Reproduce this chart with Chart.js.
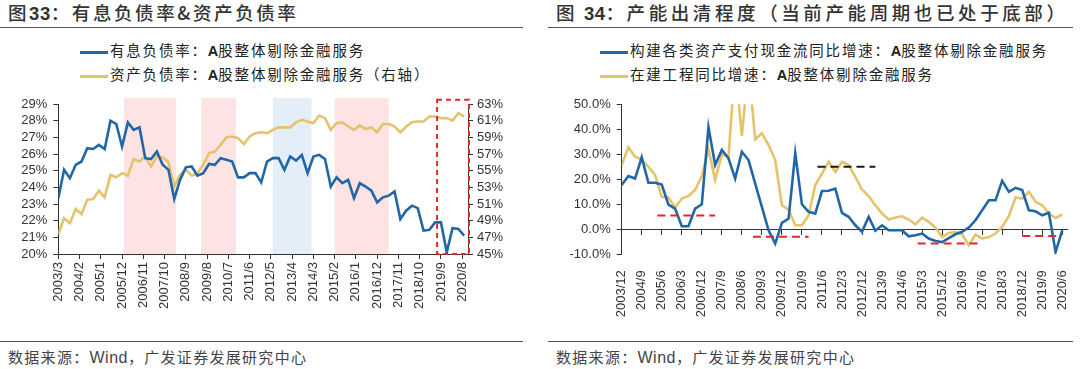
<!DOCTYPE html>
<html>
<head>
<meta charset="utf-8">
<script src="https://cdn.jsdelivr.net/npm/chart.js@4.4.1/dist/chart.umd.min.js"></script>
<style>
  body { margin: 0; width: 1080px; height: 369px; overflow: hidden; background: #fff; position: relative;
         font-family: "Noto Sans CJK SC", "Noto Sans", sans-serif; color: #333; }
  .title { position: absolute; top: 0; line-height: 24px; font-size: 18.5px; font-weight: 500; color: #333;
           letter-spacing: 2.6px; white-space: nowrap; }
  .title b { font-family: "Liberation Sans", Arial, sans-serif; font-weight: 700; letter-spacing: 0.5px; }
  .title .wide { letter-spacing: 3.6px; }
  .rule { position: absolute; height: 0; border-top: 1.5px solid #555; }
  .legend { position: absolute; left: 0; font-size: 14.5px; letter-spacing: 1.8px; color: #222; white-space: nowrap; line-height: 20px; }
  .legend i { display: inline-block; width: 28px; height: 3px; vertical-align: middle; margin-right: 2px; }
  .legend b { font-family: "Liberation Sans", Arial, sans-serif; letter-spacing: 0; }
  .source { position: absolute; top: 347px; line-height: 20px; font-size: 15px; color: #444; letter-spacing: 1.3px; white-space: nowrap; }
  .source span { font-family: "Liberation Sans", Arial, sans-serif; font-size: 16px; letter-spacing: 0.5px; }
  .panel { position: absolute; top: 90px; height: 240px; overflow: hidden; }
</style>
</head>
<body>
<div class="title" style="left:8px">图<b>33</b>：有息负债率&amp;资产负债率</div>
<div class="rule" style="left:0;top:27px;width:523px"></div>
<div class="legend" style="top:40px;left:80px"><i style="background:#2166a5"></i>有息负债率：<b>A</b>股整体剔除金融服务</div>
<div class="legend" style="top:64px;left:80px"><i style="background:#e4c36b"></i>资产负债率：<b>A</b>股整体剔除金融服务（右轴）</div>
<div class="panel" style="left:0;width:540px"><canvas id="left" width="540" height="240"></canvas></div>
<div class="rule" style="left:0;top:341px;width:523px"></div>
<div class="source" style="left:8px">数据来源：<span>Wind</span>，广发证券发展研究中心</div>

<div class="title" style="left:556px">图 <b>34</b>：<span class="wide">产能出清程度（当前产能周期也已处于底部）</span></div>
<div class="rule" style="left:548px;top:27px;width:525px"></div>
<div class="legend" style="top:40px;left:600px"><i style="background:#2166a5"></i>构建各类资产支付现金流同比增速：<b>A</b>股整体剔除金融服务</div>
<div class="legend" style="top:64px;left:600px"><i style="background:#e4c36b"></i>在建工程同比增速：<b>A</b>股整体剔除金融服务</div>
<div class="panel" style="left:540px;width:528px"><canvas id="right" width="546" height="240"></canvas></div>
<div class="rule" style="left:548px;top:341px;width:525px"></div>
<div class="source" style="left:556px">数据来源：<span>Wind</span>，广发证券发展研究中心</div>

<script>
// ---- figure 33: quarterly, 2003/3 onwards ----
const leftStart = '2003/3';
const leftXMin = '2003/3';
const leftXMax = '2020/11';
const leftTickLabels = ['2003/3', '2004/2', '2005/1', '2005/12', '2006/11', '2007/10', '2008/9', '2009/8', '2010/7',
  '2011/6', '2012/5', '2013/4', '2014/3', '2015/2', '2016/1', '2016/12', '2017/11', '2018/10', '2019/9', '2020/8'];
// 有息负债率 (left axis, %)
const debtRatio = [23.35, 25.05, 24.55, 25.35, 25.55, 26.35, 26.3, 26.55, 26.3, 28.0, 27.8, 26.45, 27.9, 27.45, 27.6,
  25.75, 25.7, 26.15, 25.35, 25.05, 23.3, 24.45, 25.2, 25.25, 24.7, 24.85, 25.4, 25.35, 25.75, 25.65, 25.55, 24.6,
  24.6, 24.85, 24.85, 24.3, 25.55, 25.75, 25.75, 25.05, 25.85, 25.6, 25.95, 24.85, 25.85, 25.95, 25.7, 24.05, 24.6,
  24.25, 24.45, 23.35, 24.25, 24.05, 23.8, 23.1, 23.4, 23.5, 23.75, 22.1, 22.6, 22.9, 22.75, 21.4, 21.45, 21.9, 21.9,
  20.1, 21.55, 21.5, 21.1];
// 资产负债率 (right axis, %)
const assetRatio = [47.4, 49.3, 48.7, 50.4, 49.8, 51.5, 51.6, 52.6, 51.8, 54.5, 54.2, 54.7, 54.4, 56.4, 56.1, 56.7,
  55.5, 56.7, 56.6, 56.0, 53.1, 54.5, 55.1, 54.4, 54.7, 55.7, 57.1, 57.3, 58.1, 59.0, 59.1, 58.9, 58.2, 59.1, 59.5,
  59.6, 59.5, 59.9, 60.2, 60.2, 60.2, 60.8, 61.1, 60.9, 60.7, 61.6, 61.3, 59.9, 60.7, 60.8, 60.3, 59.9, 60.4, 60.0,
  60.2, 59.6, 60.6, 60.6, 60.3, 59.6, 60.3, 60.8, 60.9, 60.9, 61.5, 61.5, 61.3, 61.3, 61.0, 61.9, 61.5];
const pinkBands = [['2006/1', '2008/4'], ['2009/5', '2010/11'], ['2015/2', '2017/6']];
const blueBands = [['2012/6', '2014/2']];
const bandTop = 29.35;
const boxFrom = '2019/7';
const boxTop = 29.25;

// ---- figure 34: quarterly, 2003/12 onwards ----
const rightStart = '2003/12';
const rightXMin = '2003/12';
const rightXMax = '2020/9';
const rightTickLabels = ['2003/12', '2004/9', '2005/6', '2006/3', '2006/12', '2007/9', '2008/6', '2009/3', '2009/12',
  '2010/9', '2011/6', '2012/3', '2012/12', '2013/9', '2014/6', '2015/3', '2015/12', '2016/9', '2017/6', '2018/3',
  '2018/12', '2019/9', '2020/6'];
// 构建各类资产支付现金流同比增速 (%)
const capexGrowth = [17.7, 21.3, 20.3, 28.8, 18.6, 18.6, 17.9, 9.9, 8.3, 1.2, 1.2, 8.3, 10.0, 40.8, 25.7, 31.7, 28.4,
  20.3, 31.0, 27.7, 18.3, 9.0, -0.4, -5.7, 2.6, 4.3, 30.4, 10.0, 7.0, 6.3, 15.3, 15.4, 16.3, 6.6, 5.0, 1.6, -1.0, 5.0,
  -0.6, 1.6, -0.4, -0.4, -0.4, -2.8, -2.4, -1.7, -3.7, -4.7, -5.1, -3.5, -2.0, -1.0, 0.7, 3.6, 7.6, 11.6, 11.6, 19.4,
  15.0, 16.6, 15.7, 7.6, 7.2, 5.6, 6.6, -9.1, -0.4];
// 在建工程同比增速 (%)
const cipGrowth = [25.7, 32.8, 29.0, 27.9, 25.0, 21.7, 13.0, 12.7, 8.7, 12.3, 13.3, 15.7, 21.3, 32.0, 19.7, 30.0, 29.0,
  66.0, 37.4, 65.0, 36.0, 38.4, 33.7, 27.7, 9.6, 7.9, 1.6, 1.6, 5.6, 17.7, 22.3, 27.0, 23.0, 27.0, 25.7, 21.0, 15.9,
  13.3, 9.6, 6.3, 3.9, 4.7, 5.2, 3.9, 2.0, 4.7, 3.0, 0.7, -3.1, -1.5, -1.1, -2.0, -6.4, -2.1, -3.7, -3.1, -1.7, 0.9,
  5.2, 12.7, 12.3, 15.0, 11.0, 9.6, 6.3, 4.5, 6.0];
// dashed reference levels: [from, to, level]
const redLevels = [['2005/4', '2007/6', 5.5], ['2008/11', '2010/12', -3.0], ['2015/1', '2017/4', -5.7], ['2018/12', '2020/5', -2.7]];
const blackLevels = [['2011/4', '2013/6', 25.0]];

const BLUE = '#2166a5';
const GOLD = '#e4c36b';
const RED = '#e8262a';
const AXIS = '#333';

Chart.defaults.font.family = '"Liberation Sans", Arial, sans-serif';
Chart.defaults.font.size = 13;
Chart.defaults.color = '#333';

function monthIndex(label) {
  const [y, m] = label.split('/').map(Number);
  return (y - 2003) * 12 + m - 1;
}
function monthLabel(idx) {
  return (2003 + Math.floor(idx / 12)) + '/' + (idx % 12 + 1);
}
function quarterly(start, values) {
  const s = monthIndex(start);
  return values.map((v, i) => ({ x: s + 3 * i, y: v }));
}
function fixedTicks(labels) {
  return scale => { scale.ticks = labels.map(l => ({ value: monthIndex(l) })); };
}

const leftShading = {
  id: 'leftShading',
  beforeDraw(chart) {
    const { ctx, chartArea, scales: { x, y } } = chart;
    const top = y.getPixelForValue(bandTop);
    ctx.save();
    const fill = (bands, color) => bands.forEach(([a, b]) => {
      const x1 = x.getPixelForValue(monthIndex(a));
      const x2 = x.getPixelForValue(monthIndex(b));
      ctx.fillStyle = color;
      ctx.fillRect(x1, top, x2 - x1, chartArea.bottom - top);
    });
    fill(pinkBands, '#fde3e3');
    fill(blueBands, '#e3eef8');
    ctx.restore();
  },
  afterDatasetsDraw(chart) {
    const { ctx, chartArea, scales: { x, y } } = chart;
    const x1 = x.getPixelForValue(monthIndex(boxFrom));
    const top = y.getPixelForValue(boxTop);
    ctx.save();
    ctx.strokeStyle = RED;
    ctx.lineWidth = 2;
    ctx.setLineDash([5, 4]);
    ctx.strokeRect(x1, top, chartArea.right + 1 - x1, chartArea.bottom - top);
    ctx.restore();
  }
};

const common = {
  responsive: false,
  animation: false,
  elements: { point: { radius: 0 }, line: { tension: 0, borderWidth: 2.6 } },
  plugins: { legend: { display: false }, tooltip: { enabled: false } }
};

new Chart(document.getElementById('left'), {
  type: 'line',
  data: {
    datasets: [
      { data: quarterly(leftStart, debtRatio), yAxisID: 'y', borderColor: BLUE },
      { data: quarterly(leftStart, assetRatio), yAxisID: 'y2', borderColor: GOLD }
    ]
  },
  options: {
    ...common,
    layout: { padding: { top: 14, left: 0, right: 0, bottom: 0 } },
    scales: {
      x: {
        type: 'linear', min: monthIndex(leftXMin), max: monthIndex(leftXMax),
        afterBuildTicks: fixedTicks(leftTickLabels),
        afterFit: s => { s.height = 76; },
        ticks: { autoSkip: false, minRotation: 90, maxRotation: 90, padding: 3, callback: v => monthLabel(v) },
        grid: { drawOnChartArea: false, tickLength: 5, color: AXIS },
        border: { color: AXIS }
      },
      y: {
        position: 'left', min: 20, max: 29,
        afterFit: s => { s.width = 58.3; },
        ticks: { stepSize: 1, autoSkip: false, padding: 6, callback: v => v + '%' },
        grid: { drawOnChartArea: false, tickLength: 5, color: AXIS },
        border: { color: AXIS }
      },
      y2: {
        position: 'right', min: 45, max: 63,
        afterFit: s => { s.width = 72; },
        ticks: { stepSize: 2, autoSkip: false, padding: 4, callback: v => v + '%' },
        grid: { drawOnChartArea: false, tickLength: 5, color: AXIS },
        border: { color: AXIS }
      }
    }
  },
  plugins: [leftShading]
});

const levelSets = [
  ...redLevels.map(([a, b, v]) => ({ c: RED, a, b, v })),
  ...blackLevels.map(([a, b, v]) => ({ c: '#1a1a1a', a, b, v }))
].map(l => ({
  data: [{ x: monthIndex(l.a), y: l.v }, { x: monthIndex(l.b), y: l.v }],
  borderColor: l.c, borderWidth: 2, borderDash: [8, 5]
}));

new Chart(document.getElementById('right'), {
  type: 'line',
  data: {
    datasets: [
      ...levelSets,
      { data: quarterly(rightStart, capexGrowth), borderColor: BLUE },
      { data: quarterly(rightStart, cipGrowth), borderColor: GOLD }
    ]
  },
  options: {
    ...common,
    layout: { padding: { top: 14.3, left: 0, right: 10, bottom: 0 } },
    scales: {
      x: {
        type: 'linear', min: monthIndex(rightXMin), max: monthIndex(rightXMax),
        afterBuildTicks: fixedTicks(rightTickLabels),
        afterFit: s => { s.height = 75.7; },
        ticks: { autoSkip: false, minRotation: 90, maxRotation: 90, padding: 8, callback: v => monthLabel(v) },
        grid: { display: false },
        border: { display: false }
      },
      zero: {
        type: 'linear', axis: 'x', position: { y: 0 },
        min: monthIndex(rightXMin), max: monthIndex(rightXMax),
        afterBuildTicks: fixedTicks(rightTickLabels),
        ticks: { display: false },
        grid: { drawOnChartArea: false, tickLength: 5, color: AXIS },
        border: { color: AXIS }
      },
      y: {
        position: 'left', min: -10, max: 50,
        afterFit: s => { s.width = 81.7; },
        ticks: { stepSize: 10, autoSkip: false, padding: 6, callback: v => v.toFixed(1) + '%' },
        grid: { drawOnChartArea: false, tickLength: 5, color: AXIS },
        border: { color: AXIS }
      }
    }
  }
});
</script>
</body>
</html>
